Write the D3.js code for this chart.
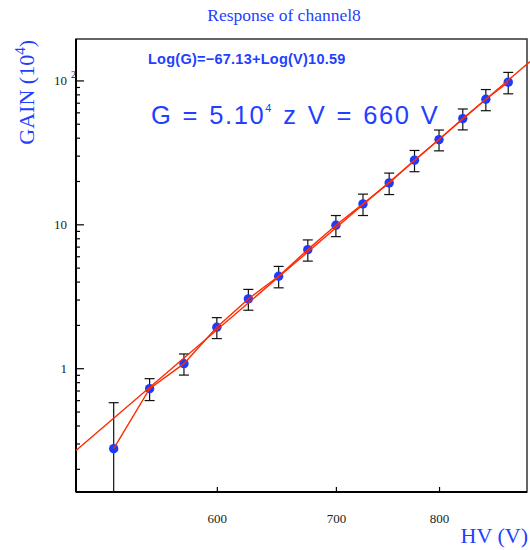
<!DOCTYPE html>
<html>
<head>
<meta charset="utf-8">
<script src="https://cdn.jsdelivr.net/npm/d3@7"></script>
<style>
  html, body { margin: 0; padding: 0; background: #fff; }
  svg { display: block; }
</style>
</head>
<body>
<svg id="chart" width="530" height="550"></svg>
<script>
// ---- data ----
const hv = [525, 550, 575, 600, 625, 650, 675, 700, 725, 750, 775, 800, 825, 850, 875];
const gain = [0.276, 0.721, 1.076, 1.927, 3.03, 4.36, 6.67, 9.86, 13.86, 19.4, 27.9, 38.8, 54.3, 74.0, 97.2];
const gainErr = [0.30, 0.125, 0.18, 0.32, 0.50, 0.74, 1.12, 1.65, 2.35, 3.3, 4.7, 6.4, 9.0, 12.4, 16.5];
const xTicks = [600, 700, 800];
const yMajorTicks = [1, 10, 100];
const yMinorTicks = [0.2, 0.3, 0.4, 0.5, 0.6, 0.7, 0.8, 0.9, 2, 3, 4, 5, 6, 7, 8, 9, 20, 30, 40, 50, 60, 70, 80, 90];
const fitA = -67.13, fitB = 10.59;   // ln G = A + B ln V
const fitRange = [500, 900];
const titleText = "Response of channel8";
const fitLabel = "Log(G)=\u221267.13+Log(V)10.59";

// ---- layout ----
const svg = d3.select("#chart");
const L = 76, T = 39, R = 527, B = 492;
const x = d3.scaleLog().domain([500, 900]).range([76, 530]);
const y = d3.scaleLog().domain([0.138, 194]).range([B, T]);
const blue = "#1f40ff";
const red = "#ff2a00";
const serif = "Liberation Serif, Times New Roman, serif";
const sans = "Liberation Sans, Arial, sans-serif";

svg.append("defs").append("clipPath").attr("id", "clip")
  .append("rect").attr("x", L).attr("y", T).attr("width", R - L).attr("height", B - T);

// title
svg.append("text").attr("x", 284).attr("y", 21).attr("text-anchor", "middle")
  .attr("font-family", serif).attr("font-size", 17.5)
  .attr("fill", blue).text(titleText);

// frame
svg.append("rect").attr("x", L).attr("y", T).attr("width", R - L).attr("height", B - T)
  .attr("fill", "none").attr("stroke", "#333").attr("stroke-width", 1.5);
svg.append("line").attr("x1", L).attr("x2", L).attr("y1", T).attr("y2", B)
  .attr("stroke", "#000").attr("stroke-width", 2);
svg.append("line").attr("x1", L).attr("x2", R).attr("y1", B).attr("y2", B)
  .attr("stroke", "#000").attr("stroke-width", 2);

// x axis ticks (inside, upward)
const xAxis = d3.axisBottom(x).tickValues(xTicks).tickSizeInner(-5).tickSizeOuter(0)
  .tickFormat(d3.format("d")).tickPadding(0);
const gx = svg.append("g").attr("transform", `translate(0,${B})`).call(xAxis);
gx.select(".domain").remove();
gx.selectAll(".tick line").attr("stroke", "#000").attr("stroke-width", 1.2);
gx.selectAll(".tick text").attr("font-family", serif)
  .attr("font-size", 13).attr("fill", "#222").attr("dy", null).attr("y", 31);

// y axis ticks (inside, right)
const yMajAxis = d3.axisLeft(y).tickValues(yMajorTicks).tickSizeInner(-8).tickSizeOuter(0)
  .tickFormat(d => d === 100 ? "10" : String(d)).tickPadding(17);
const gy = svg.append("g").attr("transform", `translate(${L},0)`).call(yMajAxis);
gy.select(".domain").remove();
gy.selectAll(".tick line").attr("stroke", "#000").attr("stroke-width", 1.2);
gy.selectAll(".tick text").attr("font-family", serif)
  .attr("font-size", 13).attr("fill", "#222").attr("dy", "0.35em").attr("x", -9);
gy.selectAll(".tick").filter(d => d === 100).append("text")
  .attr("x", -5).attr("y", -3).attr("font-family", serif)
  .attr("font-size", 10).attr("fill", "#222").attr("text-anchor", "start").text("2");

const yMinAxis = d3.axisLeft(y).tickValues(yMinorTicks).tickSizeInner(-4).tickSizeOuter(0).tickFormat("");
const gym = svg.append("g").attr("transform", `translate(${L},0)`).call(yMinAxis);
gym.select(".domain").remove();
gym.selectAll(".tick line").attr("stroke", "#000").attr("stroke-width", 1.2);

// axis titles
const yt = svg.append("text").attr("transform", "translate(34,40) rotate(-90)")
  .attr("text-anchor", "end").attr("font-family", serif)
  .attr("font-size", 22).attr("fill", blue);
yt.append("tspan").text("GAIN (10");
yt.append("tspan").attr("dy", -9).attr("font-size", 15).text("4");
yt.append("tspan").attr("dy", 9).text(")");

svg.append("text").attr("x", 528).attr("y", 543).attr("text-anchor", "end")
  .attr("font-family", serif).attr("font-size", 22)
  .attr("fill", blue).text("HV (V)");

// plot content
const pts = hv.map((v, i) => ({ v, g: gain[i], e: gainErr[i] }));
const plot = svg.append("g").attr("clip-path", "url(#clip)");

const eb = plot.append("g").attr("stroke", "#111").attr("stroke-width", 1.2);
pts.forEach(p => {
  const lo = p.g - p.e > 0 ? y(p.g - p.e) : B + 5;
  const hi = y(p.g + p.e);
  eb.append("line").attr("x1", x(p.v)).attr("x2", x(p.v)).attr("y1", lo).attr("y2", hi);
  eb.append("line").attr("x1", x(p.v) - 5).attr("x2", x(p.v) + 5).attr("y1", hi).attr("y2", hi);
  if (p.g - p.e > 0)
    eb.append("line").attr("x1", x(p.v) - 5).attr("x2", x(p.v) + 5).attr("y1", lo).attr("y2", lo);
});

plot.selectAll("circle.pt").data(pts).join("circle").attr("class", "pt")
  .attr("cx", d => x(d.v)).attr("cy", d => y(d.g)).attr("r", 4.7).attr("fill", "#1a3cff");

plot.append("path").datum(pts)
  .attr("d", d3.line().x(d => x(d.v)).y(d => y(d.g)))
  .attr("fill", "none").attr("stroke", red).attr("stroke-width", 1.4);

const fitPts = fitRange.map(v => ({ v, g: Math.exp(fitA + fitB * Math.log(v)) }));
svg.append("path").datum(fitPts)
  .attr("d", d3.line().x(d => x(d.v)).y(d => y(d.g)))
  .attr("fill", "none").attr("stroke", red).attr("stroke-width", 1.4);

// annotations
svg.append("text").attr("x", 148).attr("y", 64)
  .attr("font-family", sans).attr("font-weight", "bold")
  .attr("font-size", 14.5).attr("fill", blue).attr("letter-spacing", 0.25).text(fitLabel);

const big = svg.append("text").attr("x", 151).attr("y", 124)
  .attr("font-family", sans).attr("letter-spacing", 1.6).attr("word-spacing", 1.5)
  .attr("font-size", 25.5).attr("fill", blue);
big.append("tspan").text("G = 5.10");
big.append("tspan").attr("dy", -12).attr("font-size", 11).text("4");
big.append("tspan").attr("dy", 12).text(" z V = 660 V");
</script>
</body>
</html>
